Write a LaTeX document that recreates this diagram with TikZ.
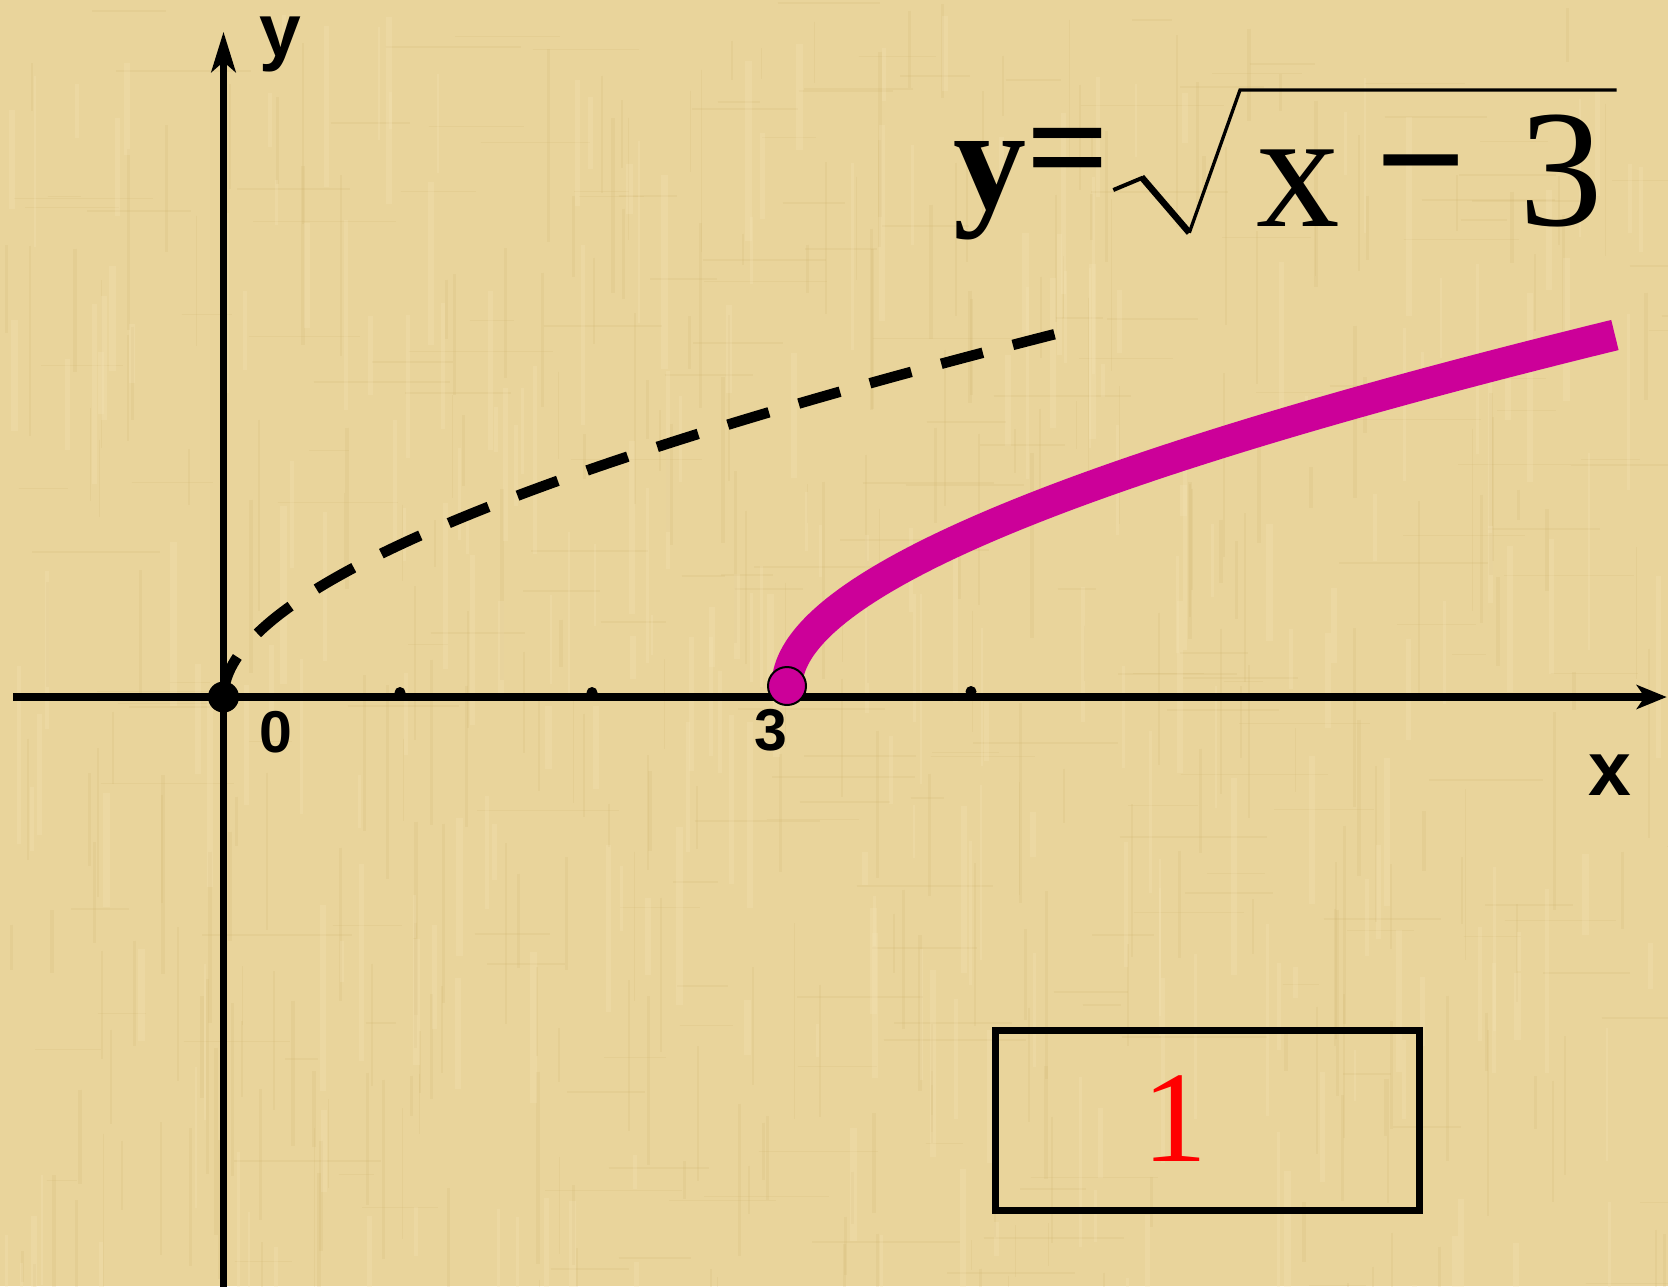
\documentclass[tikz,border=0pt]{standalone}
\usepackage{fontspec}
\setmainfont{Liberation Serif}
\newfontfamily\labfont{Liberation Sans}
\usetikzlibrary{arrows.meta}
\definecolor{paper}{RGB}{233,212,155}
\definecolor{paperdark}{RGB}{200,170,100}
\definecolor{paperlight}{RGB}{245,228,185}
\definecolor{mag}{RGB}{204,0,153}
\definecolor{redone}{RGB}{255,0,0}
\begin{document}
\begin{tikzpicture}[x=1pt,y=-1pt,
  axisline/.style={line width=7.5pt, black},
  lab/.style={inner sep=0pt, font=\labfont\bfseries\fontsize{#1}{#1}\selectfont},
  ftxt/.style={inner sep=0pt, font=\fontsize{#1}{#1}\selectfont},
  fbold/.style={inner sep=0pt, font=\bfseries\fontsize{#1}{#1}\selectfont},
  tickdot/.style={fill=black, draw=none},
  dashcurve/.style={line width=10.5pt, black, dash pattern=on 43pt off 31pt},
  magcurve/.style={line width=31pt, mag},
  framebox/.style={draw=black, line width=7pt, minimum width=423.5pt, minimum height=180pt, inner sep=0pt},
  texdark/.style={draw=paperdark, opacity=0.13},
  texlight/.style={draw=paperlight, opacity=0.25}
]
\useasboundingbox (0,0) rectangle (1668,1286);
\fill[paper] (0,0) rectangle (1668,1286);

% parchment texture
\pgfmathsetseed{7}
\foreach \i in {1,...,320}{
  \pgfmathsetmacro\xx{rnd*1668}
  \pgfmathsetmacro\yy{rnd*1286}
  \pgfmathsetmacro\ll{30+rnd*170}
  \pgfmathsetmacro\ww{1+rnd*3}
  \draw[texdark, line width=\ww pt] (\xx,\yy) -- ++(0,\ll);
}
\foreach \i in {1,...,200}{
  \pgfmathsetmacro\xx{rnd*1668}
  \pgfmathsetmacro\yy{rnd*1286}
  \pgfmathsetmacro\ll{30+rnd*120}
  \draw[texdark, line width=1.5pt] (\xx,\yy) -- ++(\ll,0);
}
\foreach \i in {1,...,260}{
  \pgfmathsetmacro\xx{rnd*1668}
  \pgfmathsetmacro\yy{rnd*1286}
  \pgfmathsetmacro\ll{30+rnd*170}
  \pgfmathsetmacro\ww{2+rnd*5}
  \draw[texlight, line width=\ww pt] (\xx,\yy) -- ++(0,\ll);
}

% coordinates
\coordinate (xl) at (13,697);
\coordinate (xr) at (1666.7,697);
\coordinate (yb) at (223.5,1290);
\coordinate (yt) at (223.5,31.7);
\coordinate (O) at (223.5,697);
\coordinate (P3) at (787,686);

% axes
\draw[axisline, -{Stealth[length=30pt, width=24pt, inset=8pt]}] (xl) -- (xr);
\draw[axisline, -{Stealth[length=40pt, width=24pt, inset=10pt]}] (yb) -- (yt);

% dashed curve y = sqrt(x)
\draw[dashcurve] plot[domain=0:28.86, samples=140, variable=\t]
  ({223.5+\t*\t},{697-1.03*(10.2*\t+0.07*\t*\t)});

% magenta curve y = sqrt(x-3)
\draw[magcurve] plot[domain=0:28.775, samples=140, variable=\t]
  ({787+\t*\t},{686-(10.3*\t+0.066*\t*\t)});

% tick dots
\fill[tickdot] (400,692.5) circle (5.5pt);
\fill[tickdot] (592,692.5) circle (5.5pt);
\fill[tickdot] (971,691.5) circle (5.5pt);

% origin dot and start point
\fill[black] (O) circle (15.5pt);
\filldraw[fill=mag, draw=black, line width=2pt] (P3) circle (19pt);

% axis labels
\node[lab=75] (ylab) at (280.8,44) {y};
\node[lab=77] (xlab) at (1610,775) {x};
\node[lab=59] (zero) at (276.3,731.7) {0};
\node[lab=59] (three) at (770.5,730.5) {3};

% formula y = sqrt(x - 3)
\node[fbold=146] (fy) at (990,191) {y};
\node[fbold=146] (feq) at (1068,162) {=};
\draw[line width=4pt, line cap=butt] (1113.3,190) -- (1142.7,177.7);
\draw[line width=6.5pt, line cap=butt] (1141.5,177) -- (1189.3,232.7);
\draw[line width=3.3pt, line join=miter] (1189.3,232.7) -- (1240,90) -- (1616.7,90);
\node[ftxt=167] (fx) at (1297.8,188.3) {x};
\node[fbold=160] (fminus) at (1420.8,183.8) {−};
\node[ftxt=167] (fthree) at (1560.8,170.8) {3};

% answer box
\node[framebox] (box) at (1207.25,1120) {};
\node[ftxt=130, text=redone] (one) at (1174.5,1119) {1};
\end{tikzpicture}
\end{document}
